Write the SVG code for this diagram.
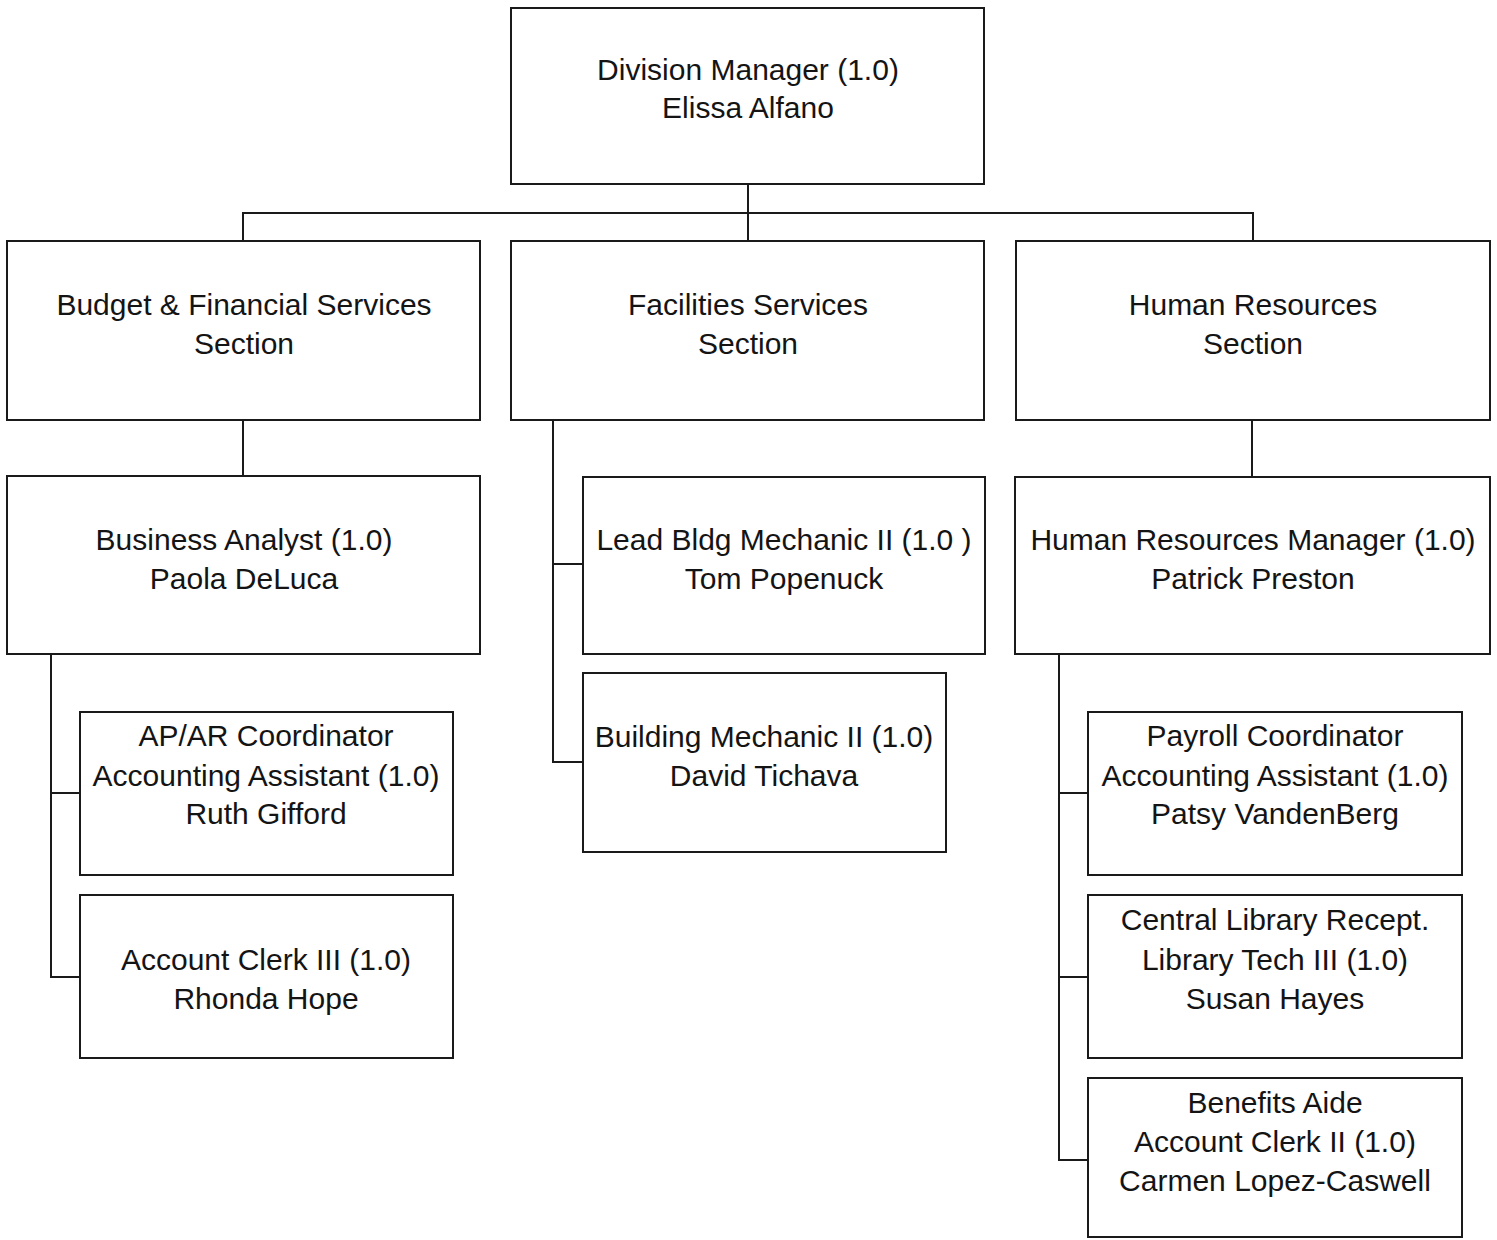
<svg xmlns="http://www.w3.org/2000/svg" width="1497" height="1240" viewBox="0 0 1497 1240">
  <style>
    .box { fill: #ffffff; stroke: #1a1a1a; stroke-width: 2; }
    .lbl { font-family: "Liberation Sans", Arial, sans-serif; font-size: 30px; fill: #141414; text-anchor: middle; }
    .wire { fill: none; stroke: #1a1a1a; stroke-width: 2; }
  </style>
  <rect width="1497" height="1240" fill="#ffffff"/>

  <!-- reporting lines -->
  <g id="connectors">
    <path class="wire" d="M748 184 V241 M243 241 V213 H1253 V241"/>
    <path class="wire" d="M243 420 V476"/>
    <path class="wire" d="M1252 420 V477"/>
    <path class="wire" d="M553 420 V762 H583 M553 564 H583"/>
    <path class="wire" d="M51 654 V977 H80 M51 793 H80"/>
    <path class="wire" d="M1059 654 V1160 H1088 M1059 793 H1088 M1059 977 H1088"/>
  </g>

  <g id="division-manager">
    <rect class="box" x="511" y="8" width="473" height="176"/>
    <text class="lbl" x="748" y="80">Division Manager (1.0)</text>
    <text class="lbl" x="748" y="118">Elissa Alfano</text>
  </g>

  <g id="budget-section">
    <rect class="box" x="7" y="241" width="473" height="179"/>
    <text class="lbl" x="244" y="315">Budget &amp; Financial Services</text>
    <text class="lbl" x="244" y="354">Section</text>
  </g>

  <g id="facilities-section">
    <rect class="box" x="511" y="241" width="473" height="179"/>
    <text class="lbl" x="748" y="315">Facilities Services</text>
    <text class="lbl" x="748" y="354">Section</text>
  </g>

  <g id="hr-section">
    <rect class="box" x="1016" y="241" width="474" height="179"/>
    <text class="lbl" x="1253" y="315">Human Resources</text>
    <text class="lbl" x="1253" y="354">Section</text>
  </g>

  <g id="business-analyst">
    <rect class="box" x="7" y="476" width="473" height="178"/>
    <text class="lbl" x="244" y="550">Business Analyst (1.0)</text>
    <text class="lbl" x="244" y="589">Paola DeLuca</text>
  </g>

  <g id="lead-bldg-mechanic">
    <rect class="box" x="583" y="477" width="402" height="177"/>
    <text class="lbl" x="784" y="550">Lead Bldg Mechanic II (1.0 )</text>
    <text class="lbl" x="784" y="589">Tom Popenuck</text>
  </g>

  <g id="building-mechanic">
    <rect class="box" x="583" y="673" width="363" height="179"/>
    <text class="lbl" x="764" y="747">Building Mechanic II (1.0)</text>
    <text class="lbl" x="764" y="786">David Tichava</text>
  </g>

  <g id="hr-manager">
    <rect class="box" x="1015" y="477" width="475" height="177"/>
    <text class="lbl" x="1253" y="550">Human Resources Manager (1.0)</text>
    <text class="lbl" x="1253" y="589">Patrick Preston</text>
  </g>

  <g id="apar-coordinator">
    <rect class="box" x="80" y="712" width="373" height="163"/>
    <text class="lbl" x="266" y="746">AP/AR Coordinator</text>
    <text class="lbl" x="266" y="786">Accounting Assistant (1.0)</text>
    <text class="lbl" x="266" y="824">Ruth Gifford</text>
  </g>

  <g id="account-clerk-iii">
    <rect class="box" x="80" y="895" width="373" height="163"/>
    <text class="lbl" x="266" y="970">Account Clerk III (1.0)</text>
    <text class="lbl" x="266" y="1009">Rhonda Hope</text>
  </g>

  <g id="payroll-coordinator">
    <rect class="box" x="1088" y="712" width="374" height="163"/>
    <text class="lbl" x="1275" y="746">Payroll Coordinator</text>
    <text class="lbl" x="1275" y="786">Accounting Assistant (1.0)</text>
    <text class="lbl" x="1275" y="824">Patsy VandenBerg</text>
  </g>

  <g id="library-reception">
    <rect class="box" x="1088" y="895" width="374" height="163"/>
    <text class="lbl" x="1275" y="930">Central Library Recept.</text>
    <text class="lbl" x="1275" y="970">Library Tech III (1.0)</text>
    <text class="lbl" x="1275" y="1009">Susan Hayes</text>
  </g>

  <g id="benefits-aide">
    <rect class="box" x="1088" y="1078" width="374" height="159"/>
    <text class="lbl" x="1275" y="1113">Benefits Aide</text>
    <text class="lbl" x="1275" y="1152">Account Clerk II (1.0)</text>
    <text class="lbl" x="1275" y="1191">Carmen Lopez-Caswell</text>
  </g>
</svg>
